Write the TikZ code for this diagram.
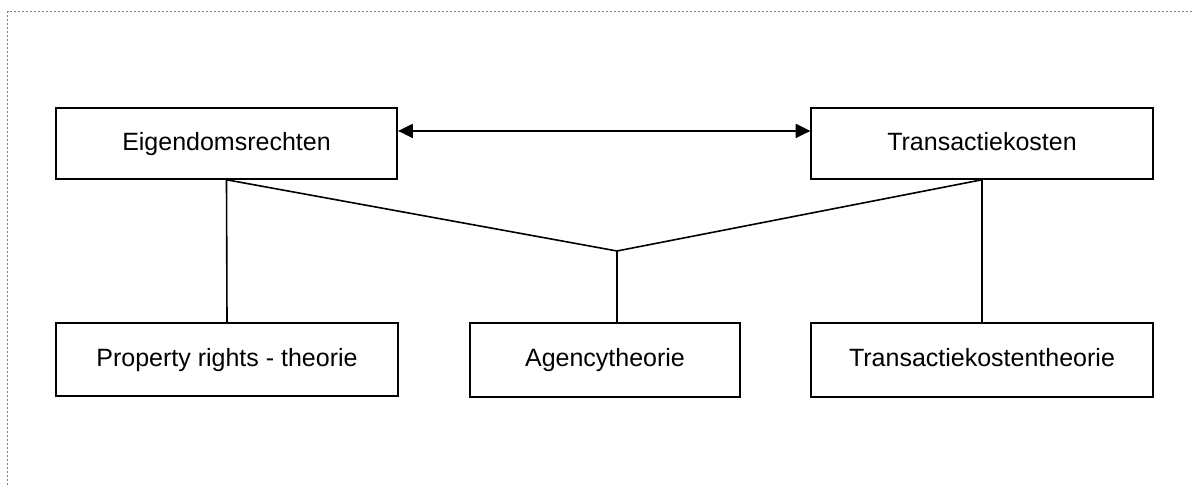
\documentclass[tikz,border=0pt]{standalone}
\usepackage{fontspec}
\setmainfont{Liberation Sans}
\usetikzlibrary{arrows.meta}
\begin{document}
\begin{tikzpicture}[x=0.75pt,y=-0.75pt,
  box/.style={draw,line width=1.4pt,rectangle,inner sep=0pt,minimum width=256pt,
    text height=13.5pt,text depth=3.5pt,font=\fontsize{18.75}{22}\selectfont},
  link/.style={line width=1.2pt},
  frame/.style={gray,line width=1pt,dash pattern=on 1.5pt off 1.5pt}]

\useasboundingbox (0,0) rectangle (1193,485);
\draw[frame] (7.5,485) -- (7.5,11.5) -- (1193,11.5);

\node[box,minimum height=53pt] (rights) at (226.5,143.5) {Eigendomsrechten};
\node[box,minimum height=53pt] (costs) at (982,143.5) {Transactiekosten};
\node[box,minimum height=55pt] (prt) at (227,359.5) {Property rights - theorie};
\node[box,minimum height=55pt,minimum width=202pt] (agency) at (605,360) {Agencytheorie};
\node[box,minimum height=55pt] (tct) at (982,360) {Transactiekostentheorie};
\coordinate (join) at (617,251);

\draw[link,{Triangle[length=11pt,width=10.5pt]}-{Triangle[length=11pt,width=10.5pt]}]
  ([yshift=9.4pt]rights.east) -- ([yshift=9.4pt]costs.west);
\draw[link] (rights.south) -- (join) -- (costs.south);
\draw[link] (rights.south) -- (prt.north);
\draw[link] (join) -- (join |- agency.north);
\draw[link] (costs.south) -- (tct.north);
\end{tikzpicture}
\end{document}
